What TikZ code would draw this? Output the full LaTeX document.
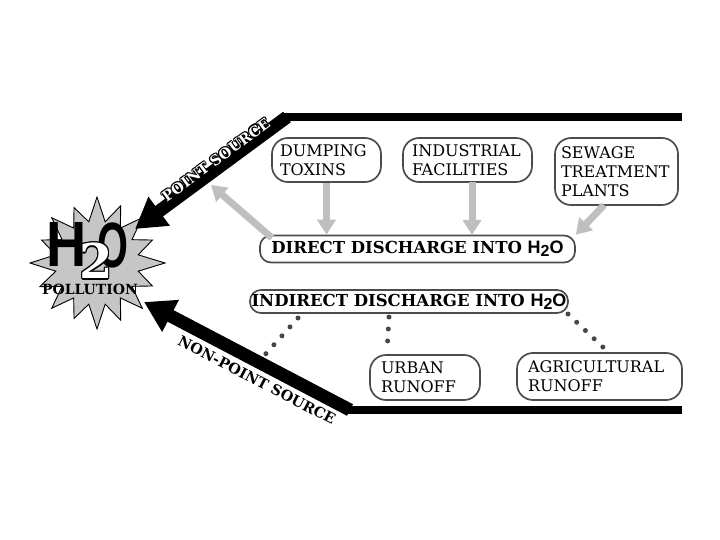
\documentclass[tikz,border=0pt]{standalone}
\usepackage{fontspec}
\setmainfont{DejaVu Serif}
\newfontfamily\hsans{Liberation Sans}
\usetikzlibrary{arrows.meta}
\begin{document}
\begin{tikzpicture}[x=1pt,y=-1pt,
  box/.style={draw=gray!60!black, line width=1.7pt, rounded corners=16pt, align=left,
    font=\fontsize{16}{19}\selectfont, inner sep=0pt},
  headbox/.style={draw=gray!60!black, line width=1.7pt, rounded corners=11pt,
    font=\bfseries\fontsize{16.5}{18}\selectfont, inner sep=0pt},
  garrow/.style={draw=gray!50, line width=7pt, -{Triangle[width=18pt,length=15pt]}},
  barrow/.style={draw=black, line width=13pt, -{Triangle[width=34pt,length=30pt]}},
  dots/.style={draw=gray!55!black, line width=5pt, line cap=round, dash pattern=on 0pt off 12pt},
  arrtext/.style={font=\bfseries\fontsize{14.5}{16}\selectfont, inner sep=0pt}]
\useasboundingbox (0,0) rectangle (720,540);

% starburst
\begin{scope}[shift={(97,263)}]
\draw[fill=gray!45, line width=0.9pt] (0:68)
  -- (11.25:42) -- (22.5:60) -- (33.75:42) -- (45:64) -- (56.25:42) -- (67.5:62)
  -- (78.75:42) -- (90:66) -- (101.25:42) -- (112.5:60) -- (123.75:42) -- (135:64)
  -- (146.25:42) -- (157.5:62) -- (168.75:42) -- (180:67) -- (191.25:42) -- (202.5:60)
  -- (213.75:42) -- (225:64) -- (236.25:42) -- (247.5:60) -- (258.75:42) -- (270:66)
  -- (281.25:42) -- (292.5:62) -- (303.75:42) -- (315:64) -- (326.25:42) -- (337.5:60)
  -- (348.75:42) -- cycle;
\end{scope}
\node[inner sep=0pt, minimum size=120pt] (star) at (97,263) {};
\node[font=\hsans\bfseries\fontsize{64}{64}\selectfont, xscale=0.87, inner sep=0pt] (hh) at (67,244) {H};
\node[font=\hsans\bfseries\fontsize{64}{64}\selectfont, xscale=0.62, inner sep=0pt] (oo) at (113,245) {O};
\foreach \dx/\dy in {-1.2/0,1.2/0,0/-1.2,0/1.2,-0.9/-0.9,0.9/0.9,-0.9/0.9,0.9/-0.9}
  \node[font=\bfseries\fontsize{48}{48}\selectfont, inner sep=0pt, xshift=\dx pt, yshift=\dy pt] at (96,261) {2};
\node[font=\bfseries\fontsize{48}{48}\selectfont, inner sep=0pt, text=white] (two) at (96,261) {2};
\node[font=\bfseries\fontsize{14}{14}\selectfont, inner sep=0pt] (poll) at (90,289) {POLLUTION};

% black lines and arrows
\coordinate (ptip) at (135,229);
\coordinate (ntip) at (144,302);
\coordinate (tc) at (287,117);
\coordinate (bc) at (350,410);
\coordinate (te) at (682,117);
\coordinate (be) at (682,410);
\draw[line width=8pt] (te) -- (283,117);
\draw[barrow] (tc) -- (ptip);
\draw[line width=8pt] (be) -- (346,410);
\draw[barrow] (bc) -- (ntip);

% arrow texts
\foreach \dx/\dy in {-1.2/0,1.2/0,0/-1.2,0/1.2,-0.9/-0.9,0.9/0.9,-0.9/0.9,0.9/-0.9}
  \node[arrtext, rotate=36.4, xshift=\dx pt, yshift=\dy pt] at (216,160) {POINT SOURCE};
\node[arrtext, rotate=36.4, text=white] (pst) at (216,160) {POINT SOURCE};
\node[arrtext, rotate=-27.5] (npst) at (257,380) {NON-POINT SOURCE};

% boxes
\node[box, minimum width=109pt, minimum height=44pt, text width=93pt] (dump) at (326.5,160) {DUMPING\\TOXINS};
\node[box, minimum width=129pt, minimum height=44pt, text width=111pt] (ind) at (467.5,160) {INDUSTRIAL\\FACILITIES};
\node[box, minimum width=123pt, minimum height=67pt, text width=111pt] (sew) at (616.5,171.5) {SEWAGE\\TREATMENT\\PLANTS};
\node[box, minimum width=110pt, minimum height=45pt, text width=88pt] (urb) at (425,377.5) {URBAN\\RUNOFF};
\node[box, minimum width=165pt, minimum height=47pt, text width=143pt] (agr) at (599.5,376.5) {AGRICULTURAL\\RUNOFF};
\node[headbox, minimum width=315pt, minimum height=27pt] (dir) at (417.5,249)
  {DIRECT DISCHARGE INTO {\hsans\bfseries\fontsize{18}{18}\selectfont H\raisebox{-3pt}{\fontsize{16}{16}\selectfont 2}O}};
\node[headbox, minimum width=318pt, minimum height=23pt] (indir) at (409,301.5)
  {INDIRECT DISCHARGE INTO {\hsans\bfseries\fontsize{18}{18}\selectfont H\raisebox{-3pt}{\fontsize{16}{16}\selectfont 2}O}};

% gray arrows
\coordinate (gtip) at (211,185);
\draw[garrow] (dump.south) -- (dump.south |- dir.north);
\draw[garrow] (472,182) -- (472,235);
\draw[garrow] (604,205) -- (dir.north east);
\draw[garrow] (272,238) -- (gtip);

% dotted lines
\draw[dots] (298,318) -- (262,358);
\draw[dots] (389,317) -- (387,352);
\draw[dots] (568,314) -- (606,350);
\end{tikzpicture}
\end{document}
